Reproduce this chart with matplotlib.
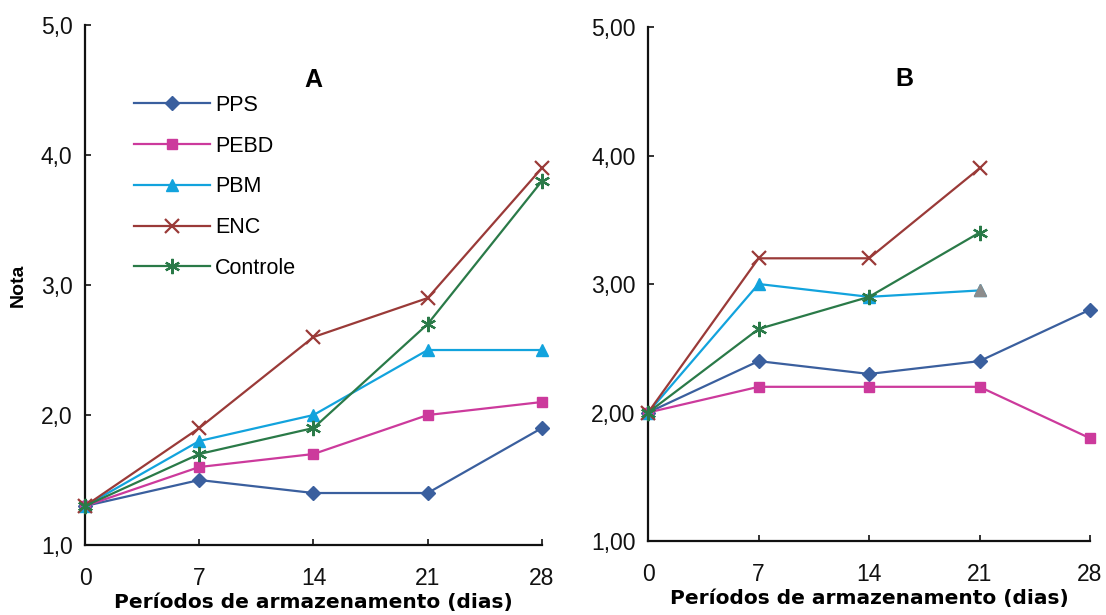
import matplotlib
matplotlib.use("Agg")
import matplotlib.pyplot as plt
from matplotlib.ticker import FuncFormatter

plt.rcParams['font.family'] = ['Liberation Sans', 'DejaVu Sans']

days = [0, 7, 14, 21, 28]
series = ["PPS", "PEBD", "PBM", "ENC", "Controle"]

# Panel A
a_pps = [1.3, 1.5, 1.4, 1.4, 1.9]
a_pebd = [1.3, 1.6, 1.7, 2.0, 2.1]
a_pbm = [1.3, 1.8, 2.0, 2.5, 2.5]
a_enc = [1.3, 1.9, 2.6, 2.9, 3.9]
a_ctrl = [1.3, 1.7, 1.9, 2.7, 3.8]

# Panel B (PBM, ENC, Controle only up to day 21)
b_days_short = [0, 7, 14, 21]
b_pps = [2.0, 2.4, 2.3, 2.4, 2.8]
b_pebd = [2.0, 2.2, 2.2, 2.2, 1.8]
b_pbm = [2.0, 3.0, 2.9, 2.95]
b_enc = [2.0, 3.2, 3.2, 3.9]
b_ctrl = [2.0, 2.65, 2.9, 3.4]

colors = {"PPS": "#3A5F9E", "PEBD": "#CC3A9C", "PBM": "#12A3DD",
          "ENC": "#9A3A38", "Controle": "#2A7A48"}
markers = {"PPS": "D", "PEBD": "s", "PBM": "^", "ENC": "x", "Controle": (6, 2, 0)}
msizes = {"PPS": 7, "PEBD": 7, "PBM": 8, "ENC": 10, "Controle": 11}

fig = plt.figure(figsize=(11.06, 6.15), dpi=100)
axA = fig.add_axes([0.0769, 0.1138, 0.4131, 0.8455])
axB = fig.add_axes([0.586, 0.1203, 0.3995, 0.8358])


def draw(ax, name, x, y):
    c = colors[name]
    ax.plot(x, y, color=c, lw=1.6, marker=markers[name], ms=msizes[name],
            mfc=c, mec=c, mew=1.6 if name in ("ENC", "Controle") else 1.0,
            label=name, clip_on=False, zorder=3)


for name, y in zip(series, [a_pps, a_pebd, a_pbm, a_enc, a_ctrl]):
    draw(axA, name, days, y)

draw(axB, "PPS", days, b_pps)
draw(axB, "PEBD", days, b_pebd)
draw(axB, "PBM", b_days_short, b_pbm)
draw(axB, "ENC", b_days_short, b_enc)
draw(axB, "Controle", b_days_short, b_ctrl)
# last PBM marker appears gray in the original
axB.plot(b_days_short[-1:], b_pbm[-1:], ls="none", marker="^", ms=8,
         mfc="#8C8C8C", mec="#8C8C8C", zorder=4, clip_on=False)

for ax, fmt in ((axA, "{:.1f}"), (axB, "{:.2f}")):
    ax.set_xlim(0, 28)
    ax.set_ylim(1, 5)
    ax.set_xticks(days)
    ax.set_yticks([1, 2, 3, 4, 5])
    ax.yaxis.set_major_formatter(FuncFormatter(lambda v, p, f=fmt: f.format(v).replace(".", ",")))
    for s in ("top", "right"):
        ax.spines[s].set_visible(False)
    for s in ("left", "bottom"):
        ax.spines[s].set_linewidth(1.6)
        ax.spines[s].set_color("#111111")
    ax.tick_params(axis="both", direction="in", length=4, width=1.2,
                   labelsize=16.5, colors="#111111")
    ax.tick_params(axis="x", pad=16)
    ax.tick_params(axis="y", pad=9)
    ax.set_xlabel("Períodos de armazenamento (dias)", fontsize=14.5,
                  fontweight="bold", family="DejaVu Sans", labelpad=2)

axA.set_ylabel("Nota", fontsize=14, fontweight="bold", labelpad=10)

axA.text(0.5, 0.895, "A", transform=axA.transAxes, fontsize=18,
         fontweight="bold", ha="center", va="center")
axB.text(0.58, 0.898, "B", transform=axB.transAxes, fontsize=18,
         fontweight="bold", ha="center", va="center")

axA.legend(loc="upper left", bbox_to_anchor=(0.108, 0.866), frameon=False,
           fontsize=15.5, handlelength=3.5, labelspacing=0.92,
           handletextpad=0.25, borderaxespad=0, borderpad=0)

fig.savefig("out.png", dpi=100)
